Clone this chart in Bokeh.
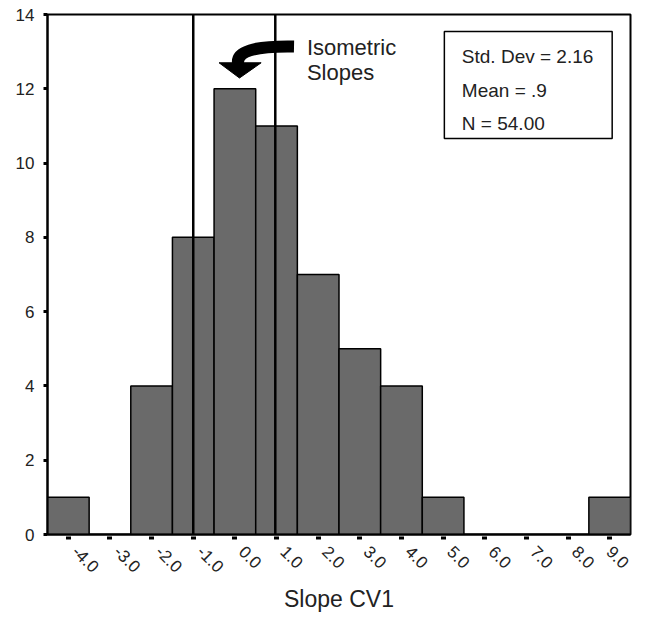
import math
from bokeh.plotting import figure
from bokeh.models import Span, FixedTicker, PrintfTickFormatter, Range1d
from bokeh.core.properties import value
from bokeh.embed import file_html
from bokeh.resources import INLINE

# ---- data ----
bin_centers = [-4, -3, -2, -1, 0, 1, 2, 3, 4, 5, 6, 7, 8, 9]
counts = [1, 0, 4, 8, 12, 11, 7, 5, 4, 1, 0, 0, 0, 1]
y_ticks = [0, 2, 4, 6, 8, 10, 12, 14]
isometric_lines = [-1.0, 0.97]
stats_lines = ["Std. Dev = 2.16", "Mean = .9", "N = 54.00"]
note_lines = ["Isometric", "Slopes"]

FONT = "Liberation Sans"

p = figure(width=632, height=615, output_backend="svg", toolbar_location=None,
           x_range=Range1d(-4.5, 9.5), y_range=Range1d(0, 14),
           min_border_left=47, min_border_right=2, min_border_top=14,
           min_border_bottom=81)
p.xgrid.visible = False
p.ygrid.visible = False
p.background_fill_color = "white"
p.border_fill_color = "white"
p.outline_line_color = "black"
p.outline_line_width = 2

p.vbar(x=bin_centers, top=counts, width=1.0, bottom=0,
       fill_color="#6a6a6a", line_color="black", line_width=1.5)

for xv in isometric_lines:
    p.add_layout(Span(location=xv, dimension="height", line_color="black", line_width=2.5))

# axes
xa = p.xaxis[0]
xa.ticker = FixedTicker(ticks=bin_centers)
xa.formatter = PrintfTickFormatter(format="\u00a0\u00a0%.1f")
xa.major_label_orientation = -math.pi / 4
xa.major_label_text_font = FONT
xa.major_label_text_font_size = "17px"
xa.major_label_text_color = "#222222"
xa.major_label_standoff = 3
xa.axis_line_color = "black"
xa.axis_line_width = 2
xa.major_tick_line_width = 5
xa.major_tick_in = -2
xa.major_tick_out = 5
xa.minor_tick_line_color = None
xa.axis_label = "Slope CV1"
xa.axis_label_text_font = FONT
xa.axis_label_text_font_size = "23px"
xa.axis_label_text_font_style = "normal"
xa.axis_label_text_color = "#222222"
xa.axis_label_standoff = 0

ya = p.yaxis[0]
ya.ticker = FixedTicker(ticks=y_ticks)
ya.major_label_text_font = FONT
ya.major_label_text_font_size = "17px"
ya.major_label_text_color = "#222222"
ya.major_label_standoff = 9
ya.axis_line_color = "black"
ya.axis_line_width = 2
ya.major_tick_line_width = 3
ya.major_tick_in = 0
ya.major_tick_out = 4
ya.minor_tick_line_color = None

# stats box
p.quad(left=[5.03], right=[9.06], bottom=[10.66], top=[13.54],
       fill_color="white", line_color="black", line_width=1.5)
p.text(x=[5.45] * 3, y=[12.87, 11.96, 11.07], text=stats_lines,
       text_font=value(FONT), text_font_size="19px", text_color="#222222",
       text_baseline="alphabetic", text_align="left")

# annotation text
p.text(x=[1.73, 1.73], y=[13.12, 12.44], text=note_lines,
       text_font=value(FONT), text_font_size="22px", text_color="#222222",
       text_baseline="alphabetic", text_align="left")

# curved arrow
p.quadratic(x0=[1.42], y0=[13.14], x1=[0.08], y1=[12.66], cx=[-0.02], cy=[13.17],
            line_color="black", line_width=12)
p.patch(x=[-0.38, 0.63, 0.11], y=[12.70, 12.70, 12.29],
        fill_color="black", line_color="black", line_width=1)

open("out.html", "w").write(file_html(p, INLINE))
